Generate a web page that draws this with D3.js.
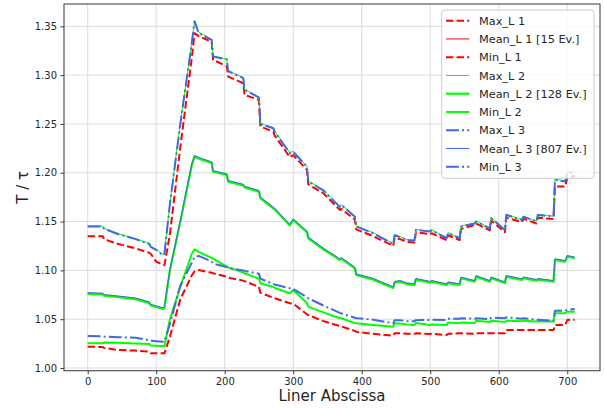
<!DOCTYPE html>
<html><head><meta charset="utf-8">
<script src="https://cdn.jsdelivr.net/npm/d3@7"></script>
<style>body{margin:0;background:#fff}svg{display:block}text{font-family:"DejaVu Sans",sans-serif;fill:#262626}</style>
</head><body>
<svg id="chart" width="604" height="408"></svg>
<script>
const abscissa = [0,22,24,45,70,90,92,100,110,112,120,135,152,156,162,181,183,203,205,227,229,250,252,271,273,295,300,320,322,344,368,370,390,392,417,446,448,456,466,477,479,500,502,524,526,543,545,565,567,587,589,609,611,634,636,655,657,680,682,697,700,711];

const maxL1 = [1.135,1.135,1.1318,1.127,1.1225,1.118,1.117,1.109,1.1055,1.1055,
1.137,1.225,1.318,1.343,1.340,1.334,1.3156,1.309,1.2985,1.2917,
1.2797,1.2746,1.2473,1.242,1.238,1.216,1.218,1.203,1.188,1.179,
1.162,1.163,1.152,1.142,1.135,1.125,1.133,1.132,1.129,1.1285,
1.139,1.137,1.138,1.131,1.136,1.131,1.1425,1.1465,1.148,1.141,
1.151,1.139,1.154,1.1495,1.153,1.148,1.154,1.1525,1.186,1.1858,
1.195,1.197];
const meanL1 = [1.0766,1.0761,1.0746,1.0731,1.0711,1.0671,1.0646,1.0631,1.0611,1.0621,
1.1006,1.1496,1.2086,1.2171,1.2151,1.2106,1.2016,1.1983,1.1915,1.1876,
1.1856,1.1812,1.1746,1.1642,1.1631,1.1466,1.1522,1.1396,1.1335,1.1222,
1.1113,1.1126,1.1027,1.0959,1.0911,1.0826,1.0881,1.0890,1.0866,1.0856,
1.0911,1.0881,1.0891,1.0856,1.0876,1.0856,1.0925,1.0890,1.0941,1.0890,
1.0926,1.0876,1.0941,1.0908,1.0926,1.0901,1.0911,1.0890,1.1113,1.1095,
1.1146,1.1130];
const minL1 = [1.0218,1.0215,1.0205,1.0184,1.0178,1.0167,1.015,1.015,1.015,1.015,
1.032,1.070,1.095,1.099,1.1004,1.0975,1.097,1.0935,1.0925,1.0895,
1.089,1.083,1.077,1.072,1.0715,1.0663,1.066,1.055,1.0543,1.048,
1.043,1.0425,1.038,1.037,1.035,1.0331,1.0355,1.0355,1.035,1.035,
1.0355,1.0348,1.035,1.0338,1.035,1.0355,1.0355,1.035,1.0355,1.0355,
1.0355,1.0355,1.0389,1.0389,1.0389,1.0389,1.0389,1.0389,1.044,1.044,
1.0492,1.0495];

const maxL2 = [1.1455,1.1455,1.143,1.1375,1.1325,1.1275,1.1245,1.1215,1.116,1.1175,
1.169,1.250,1.334,1.356,1.344,1.3365,1.3195,1.3165,1.3045,1.2975,
1.2855,1.2775,1.2505,1.246,1.2425,1.2205,1.222,1.2065,1.1915,1.1825,
1.1655,1.1675,1.1555,1.1455,1.1385,1.1275,1.1365,1.1345,1.1315,1.131,
1.142,1.140,1.1415,1.1335,1.1385,1.1335,1.1455,1.1485,1.1505,1.1435,
1.154,1.142,1.1575,1.152,1.1555,1.1505,1.1575,1.1555,1.1935,1.1915,
1.2005,1.2015];
const meanL2 = [1.076,1.0755,1.074,1.0725,1.0705,1.0665,1.064,1.0625,1.0605,1.0615,
1.100,1.149,1.208,1.2165,1.2145,1.210,1.201,1.1977,1.1909,1.187,
1.185,1.1806,1.174,1.1636,1.1625,1.146,1.1516,1.139,1.1329,1.1216,
1.1107,1.112,1.1021,1.0953,1.0905,1.082,1.0875,1.0884,1.086,1.085,
1.0905,1.0875,1.0885,1.085,1.087,1.085,1.0919,1.0884,1.0935,1.0884,
1.092,1.087,1.0935,1.0902,1.092,1.0895,1.0905,1.0884,1.1107,1.1089,
1.114,1.1124];
const minL2 = [1.0253,1.0253,1.026,1.0258,1.0252,1.0246,1.023,1.0228,1.0225,1.0225,
1.050,1.083,1.117,1.1216,1.119,1.1128,1.112,1.1038,1.103,1.098,
1.097,1.0915,1.0868,1.083,1.082,1.0765,1.0799,1.0665,1.0628,1.057,
1.0509,1.051,1.046,1.0458,1.044,1.0423,1.0458,1.0455,1.0445,1.044,
1.046,1.044,1.0445,1.044,1.0465,1.0458,1.0465,1.046,1.0485,1.047,
1.0485,1.047,1.0485,1.048,1.0485,1.0475,1.0478,1.0475,1.056,1.056,
1.0577,1.0577];

const maxL3 = [1.145,1.145,1.1425,1.137,1.132,1.127,1.124,1.121,1.1155,1.117,
1.168,1.249,1.333,1.355,1.343,1.336,1.319,1.316,1.304,1.297,
1.285,1.277,1.250,1.2456,1.242,1.220,1.2215,1.206,1.191,1.182,
1.165,1.167,1.155,1.145,1.138,1.127,1.136,1.134,1.131,1.1305,
1.1414,1.1397,1.141,1.133,1.138,1.133,1.1448,1.148,1.150,1.143,
1.1534,1.1414,1.1568,1.1516,1.155,1.150,1.1568,1.155,1.1926,1.191,
1.1995,1.200];
const meanL3 = [1.0772,1.0767,1.0752,1.0737,1.0717,1.0677,1.0652,1.0637,1.0617,1.0627,
1.1012,1.1502,1.2092,1.2177,1.2157,1.2112,1.2022,1.1989,1.1921,1.1882,
1.1862,1.1818,1.1752,1.1648,1.1637,1.1472,1.1528,1.1402,1.1341,1.1228,
1.1119,1.1132,1.1033,1.0965,1.0917,1.0832,1.0887,1.0896,1.0872,1.0862,
1.0917,1.0887,1.0897,1.0862,1.0882,1.0862,1.0931,1.0896,1.0947,1.0896,
1.0932,1.0882,1.0947,1.0914,1.0932,1.0907,1.0917,1.0896,1.1119,1.1101,
1.1152,1.1136];
const minL3 = [1.0328,1.0325,1.0322,1.0315,1.031,1.0285,1.028,1.0275,1.027,1.027,
1.045,1.084,1.108,1.1138,1.1148,1.109,1.107,1.1035,1.1025,1.100,
1.0995,1.0965,1.0915,1.086,1.0855,1.0817,1.081,1.0725,1.0714,1.064,
1.0565,1.056,1.0515,1.0509,1.0495,1.0458,1.049,1.049,1.048,1.048,
1.049,1.0492,1.0495,1.0492,1.0505,1.0505,1.0509,1.0505,1.051,1.050,
1.0515,1.051,1.0519,1.0505,1.051,1.0495,1.0495,1.0485,1.0587,1.0587,
1.0595,1.0604];

const seriesNames = ["Max_L 1","Mean_L 1 [15 Ev.]","Min_L 1","Max_L 2","Mean_L 2 [128 Ev.]","Min_L 2","Max_L 3","Mean_L 3 [807 Ev.]","Min_L 3"];
const xTicks = [0,100,200,300,400,500,600,700];
const yTicks = [1.00,1.05,1.10,1.15,1.20,1.25,1.30,1.35];

const seriesValues = [maxL1,meanL1,minL1,maxL2,meanL2,minL2,maxL3,meanL3,minL3];
const styles = [
  {c:"#ff0000",w:2,d:"7.4,3.2"},
  {c:"#ff0000",w:1,d:null},
  {c:"#ff0000",w:2,d:"7.4,3.2"},
  {c:"#00ff00",w:1,d:null},
  {c:"#00ff00",w:2.2,d:null},
  {c:"#00ff00",w:2,d:null},
  {c:"#4169e1",w:2,d:"12.8,3.2,2,3.2"},
  {c:"#4169e1",w:1,d:null},
  {c:"#4169e1",w:2,d:"12.8,3.2,2,3.2"}
];

const L=64,R=600,T=4,B=370.7;
const svg=d3.select("#chart");
const x=d3.scaleLinear().domain([-34.6,747.8]).range([L,R]);
const y=d3.scaleLinear().domain([0.99723,1.37284]).range([B,T]);

// grid
const g=svg.append("g");
g.selectAll(".gx").data(xTicks).join("line").attr("x1",d=>x(d)).attr("x2",d=>x(d)).attr("y1",T).attr("y2",B).attr("stroke","#dcdcdc").attr("stroke-width",1);
g.selectAll(".gy").data(yTicks).join("line").attr("y1",d=>y(d)).attr("y2",d=>y(d)).attr("x1",L).attr("x2",R).attr("stroke","#dcdcdc").attr("stroke-width",1);

svg.append("clipPath").attr("id","clip").append("rect").attr("x",L).attr("y",T).attr("width",R-L).attr("height",B-T);

const line=d3.line().x(d=>x(d[0])).y(d=>y(d[1]));
const lg=svg.append("g").attr("clip-path","url(#clip)");
seriesValues.forEach((vals,i)=>{
  const pts=abscissa.map((a,j)=>[a,vals[j]]);
  const s=styles[i];
  lg.append("path").attr("d",line(pts)).attr("fill","none").attr("stroke",s.c).attr("stroke-width",s.w)
    .attr("stroke-dasharray",s.d).attr("stroke-linejoin","round");
});

// axes
const xa=svg.append("g").attr("transform",`translate(0,${B})`).call(d3.axisBottom(x).tickValues(xTicks).tickSize(3.5).tickPadding(3.5).tickFormat(d3.format("d")));
const ya=svg.append("g").attr("transform",`translate(${L},0)`).call(d3.axisLeft(y).tickValues(yTicks).tickSize(3.5).tickPadding(3.5).tickFormat(d3.format(".2f")));
[xa,ya].forEach(a=>{a.select(".domain").remove();a.selectAll("line").attr("stroke","#333");a.selectAll("text").attr("font-size","10px").attr("font-family","DejaVu Sans").attr("fill","#262626");});

svg.append("rect").attr("x",L).attr("y",T).attr("width",R-L).attr("height",B-T).attr("fill","none").attr("stroke","#555").attr("stroke-width",1.2);

svg.append("text").attr("x",(L+R)/2).attr("y",401).attr("text-anchor","middle").attr("font-size","15px").text("Liner Abscissa");
svg.append("text").attr("transform",`translate(28,${(T+B)/2}) rotate(-90)`).attr("text-anchor","middle").attr("font-size","15px").text("T / τ");

// legend
const leg=svg.append("g");
leg.append("rect").attr("x",441.7).attr("y",10).attr("width",152.3).attr("height",168.3).attr("rx",3)
  .attr("fill","#fff").attr("fill-opacity",0.8).attr("stroke","#cccccc").attr("stroke-width",1);
seriesNames.forEach((n,i)=>{
  const cy=20.7+i*18.25, s=styles[i];
  leg.append("line").attr("x1",446).attr("x2",469.3).attr("y1",cy).attr("y2",cy).attr("stroke",s.c).attr("stroke-width",s.w).attr("stroke-dasharray",s.d);
  leg.append("text").attr("x",479).attr("y",cy).attr("dy","0.36em").attr("font-size","11.3px").text(n);
});
</script>
</body></html>
